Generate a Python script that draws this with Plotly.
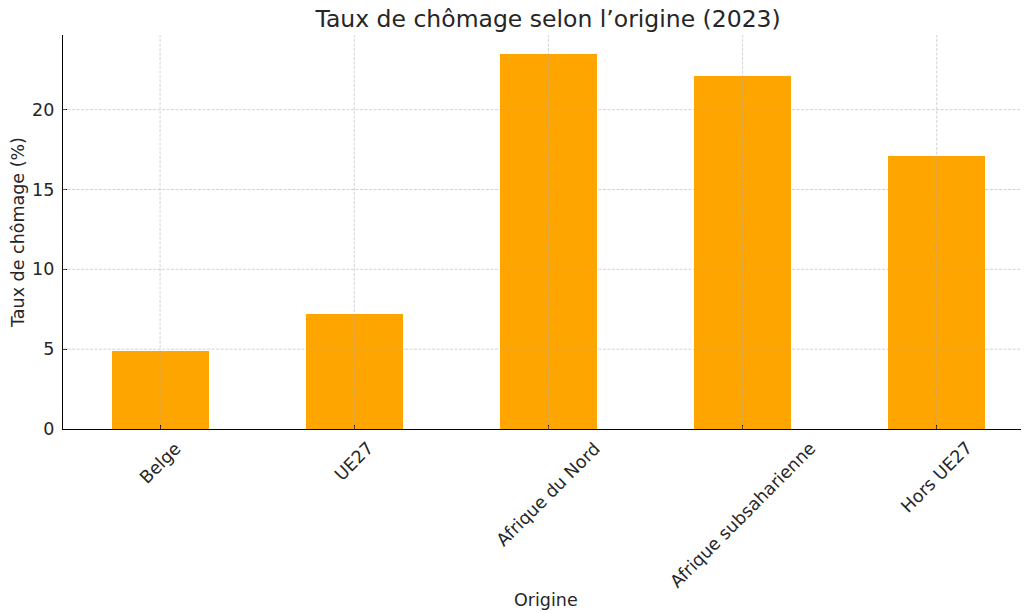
import plotly.graph_objects as go

categories = ["Belge", "UE27", "Afrique du Nord", "Afrique subsaharienne", "Hors UE27"]
values = [4.9, 7.2, 23.5, 22.1, 17.1]
y_ticks = [0, 5, 10, 15, 20]

FONT = "DejaVu Sans"
TXT = "#262626"

fig = go.Figure()
fig.add_trace(go.Bar(
    x=list(range(len(categories))),
    y=values,
    width=0.5,
    marker=dict(color="#FFA500", line=dict(width=0)),
    hoverinfo="skip",
))

shapes = []
grid_style = dict(color="rgba(176,176,176,0.7)", width=0.8, dash="3px,1.5px")
for i in range(len(categories)):
    shapes.append(dict(type="line", xref="x", yref="paper", x0=i, x1=i, y0=0, y1=1,
                       line=grid_style, layer="above"))
for t in y_ticks[1:]:
    shapes.append(dict(type="line", xref="paper", yref="y", x0=0, x1=1, y0=t, y1=t,
                       line=grid_style, layer="above"))

annotations = []
for i, c in enumerate(categories):
    annotations.append(dict(x=i, y=0, xref="x", yref="y", text=c, showarrow=False,
                            textangle=-45, xanchor="center", yanchor="top", yshift=-6,
                            font=dict(family=FONT, size=17.5, color=TXT)))
annotations.append(dict(x=0.5, y=-0.434, xref="paper", yref="paper", text="Origine",
                        showarrow=False, xanchor="center", yanchor="middle",
                        font=dict(family=FONT, size=17.5, color=TXT)))

# the page body adds an 8px offset, so the figure is sized to fit the window
fig.update_layout(
    width=1021, height=605,
    margin=dict(l=55, r=0, t=27, b=184, autoexpand=False),
    paper_bgcolor="white", plot_bgcolor="white",
    showlegend=False,
    font=dict(family=FONT, size=17.5, color=TXT),
    title=dict(text="Taux de chômage selon l’origine (2023)", x=0.529, xanchor="center",
               y=0.983, yanchor="middle", font=dict(family=FONT, size=23.5, color=TXT)),
    shapes=shapes,
    annotations=annotations,
    bargap=0,
)
fig.update_xaxes(
    range=[-0.5, 4.475], tickvals=list(range(len(categories))), showticklabels=False,
    ticks="inside", ticklen=4, tickcolor="black", showgrid=False, zeroline=False,
    showline=True, linecolor="black", linewidth=1.2, automargin=False,
)
fig.update_yaxes(
    range=[0, 24.675], tickvals=y_ticks, ticks="inside", ticklen=4, tickcolor="black",
    showgrid=False, zeroline=False, showline=True, linecolor="black", linewidth=1.2,
    ticklabelstandoff=4, automargin=False,
    title=dict(text="Taux de chômage (%)", standoff=9, font=dict(family=FONT, size=17.5, color=TXT)),
)

fig.write_html("out.html")
